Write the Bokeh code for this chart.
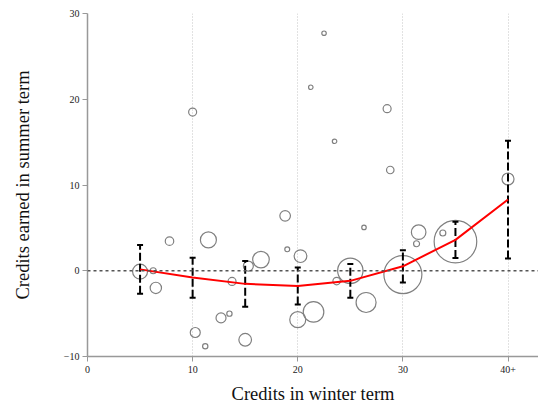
import numpy as np
from bokeh.plotting import figure
from bokeh.models import ColumnDataSource, Span, Range1d, FixedTicker
from bokeh.embed import file_html
from bokeh.resources import INLINE

# Individual cells: winter credits, summer credits earned, cell weight (count)
pt_x = [5.0, 6.25, 6.5, 7.8, 10.0, 10.25, 11.2, 11.5, 12.7, 13.5, 13.75, 15.0, 15.3,
        16.5, 18.8, 19.0, 20.0, 20.26, 21.24, 21.5, 22.5, 23.5, 23.7, 25.0, 26.3,
        26.5, 28.5, 28.8, 30.0, 31.3, 31.5, 33.8, 35.0, 40.0]
pt_y = [-0.1, 0.0, -2.0, 3.45, 18.5, -7.2, -8.8, 3.6, -5.5, -5.0, -1.25, -8.05, 0.55,
        1.3, 6.4, 2.5, -5.7, 1.7, 21.4, -4.8, 27.7, 15.1, -1.2, 0.0, 5.05,
        -3.7, 18.9, 11.75, -0.45, 3.15, 4.5, 4.4, 3.4, 10.7]
pt_n = [56, 9, 32, 18, 16, 25, 7, 64, 25, 7, 16, 40, 25,
        69, 28, 6, 64, 40, 5, 106, 5, 5, 14, 161, 5,
        100, 16, 14, 361, 9, 53, 9, 454, 36]

# Binned fit with confidence intervals
bin_x = [5, 10, 15, 20, 25, 30, 35, 40]
fit_y = [0.16, -0.8, -1.53, -1.77, -1.18, 0.52, 3.6, 8.3]
ci_lo = [-2.68, -3.15, -4.2, -3.93, -3.15, -1.36, 1.5, 1.44]
ci_hi = [3.0, 1.52, 1.13, 0.39, 0.78, 2.4, 5.7, 15.17]

x_ticks = [0, 10, 20, 30, 40]
x_tick_labels = ["0", "10", "20", "30", "40+"]
y_ticks = [-10, 0, 10, 20, 30]

FONT = "Liberation Serif"

p = figure(width=538, height=407, x_range=Range1d(0, 42.9), y_range=Range1d(-10, 30),
           output_backend="svg", toolbar_location=None,
           min_border_left=87, min_border_right=0, min_border_top=13, min_border_bottom=51)
p.outline_line_color = None
p.background_fill_color = "white"
p.border_fill_color = "white"

# grid
p.ygrid.visible = False
p.xgrid.ticker = FixedTicker(ticks=[10, 20, 30, 40])
p.xgrid.grid_line_color = "#c4c4c4"
p.xgrid.grid_line_dash = "1 2"
p.xgrid.grid_line_width = 1

# axes
for ax in (p.xaxis[0], p.yaxis[0]):
    ax.axis_line_color = "#999999"
    ax.axis_line_width = 1.5
    ax.major_tick_line_color = "#999999"
    ax.major_tick_in = 0
    ax.major_tick_out = 5
    ax.minor_tick_line_color = None
    ax.major_label_text_font = FONT
    ax.major_label_text_font_size = "10px"
    ax.major_label_text_color = "#222222"
    ax.axis_label_text_font = FONT
    ax.axis_label_text_font_size = "18.5px"
    ax.axis_label_text_font_style = "normal"
    ax.axis_label_text_color = "#111111"

p.xaxis.ticker = FixedTicker(ticks=x_ticks)
p.xaxis.major_label_overrides = {t: l for t, l in zip(x_ticks, x_tick_labels)}
p.yaxis.ticker = FixedTicker(ticks=y_ticks)
p.xaxis.axis_label = "Credits in winter term"
p.yaxis.axis_label = "Credits earned in summer term"
p.xaxis.major_label_standoff = 4
p.yaxis.major_label_standoff = 3
p.xaxis.axis_label_standoff = 8
p.yaxis.axis_label_standoff = 28

# zero line
p.add_layout(Span(location=0, dimension="width", line_color="#555555",
                  line_dash="3 3", line_width=1.5))

# bubbles
src = ColumnDataSource(dict(x=pt_x, y=pt_y, s=[2 * np.sqrt(n) for n in pt_n]))
p.scatter("x", "y", size="s", source=src, marker="circle", fill_color=None,
          line_color="#808080", line_width=1.2)

# error bars
p.segment(x0=bin_x, y0=ci_lo, x1=bin_x, y1=ci_hi, line_color="black",
          line_width=2, line_dash="8 3")
p.scatter(bin_x, ci_lo, marker="dash", size=6, line_width=2, line_color="black")
p.scatter(bin_x, ci_hi, marker="dash", size=6, line_width=2, line_color="black")

# fit line
p.line(bin_x, fit_y, line_color="red", line_width=2)

open("out.html", "w").write(file_html(p, INLINE))
